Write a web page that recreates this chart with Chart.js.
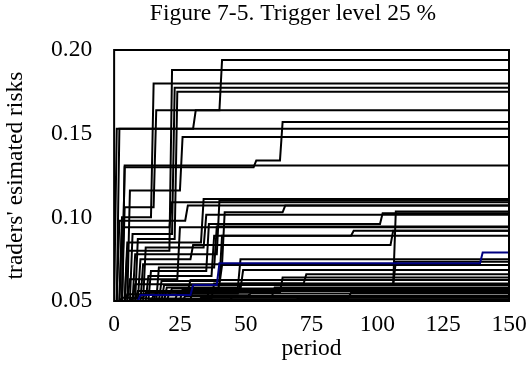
<!DOCTYPE html>
<html>
<head>
<meta charset="utf-8">
<script src="https://cdn.jsdelivr.net/npm/chart.js"></script>
<style>
  html, body { margin: 0; padding: 0; background: #fff; }
  #wrap { width: 531px; height: 383px; }
</style>
</head>
<body>
<div id="wrap"><canvas id="risk-chart"></canvas></div>
<script>
// axis ticks
const periodTicks = [0, 25, 50, 75, 100, 125, 150];
const riskTicks = [0.05, 0.10, 0.15, 0.20];

// each trader: [period, new estimated risk] at every revision
const traderSteps = [
  [[0, .05], [1, .153]],
  [[0, .05], [2, .153], [31, .164], [41, .194]],
  [[0, .05], [4, .106], [16, .164]],
  [[0, .05], [5, .080], [22, .188]],
  [[0, .05], [3, .100], [15, .180]],
  [[0, .05], [7, .090], [23, .1775]],
  [[0, .05], [9, .087], [24, .175]],
  [[0, .05], [6, .116], [26, .148]],
  [[0, .05], [4, .131]],
  [[0, .05], [4, .130], [54, .134], [64, .157]],
  [[0, .05], [3, .094], [22, .109]],
  [[0, .05], [5, .085], [34, .111]],
  [[0, .05], [8, .078], [40, .110]],
  [[0, .05], [2, .098], [28, .107]],
  [[0, .05], [11, .072], [42, .103], [65, .107]],
  [[0, .05], [19, .0596], [107, .1035]],
  [[0, .05], [14, .068], [36, .096], [102, .1025]],
  [[0, .05], [12, .082], [35, .1015]],
  [[0, .05], [17, .070], [39, .0945]],
  [[0, .05], [6, .063], [25, .094]],
  [[0, .05], [13, .065], [38, .089], [91, .092]],
  [[0, .05], [10, .075], [30, .0835], [106, .092]],
  [[0, .05], [18, .062], [41, .089]],
  [[0, .05], [20, .058], [48, .075]],
  [[0, .05], [16, .056], [40, .0596], [107, .0735]],
  [[0, .05], [8, .060], [41, .0715]],
  [[0, .05], [26, .057], [49, .0685]],
  [[0, .05], [24, .0545], [48, .0605], [73, .066]],
  [[0, .05], [21, .055], [64, .064]],
  [[0, .05], [30, .0596]],
  [[0, .05], [27, .053], [61, .058]],
  [[0, .05], [36, .056]],
  [[0, .05], [33, .052], [90, .055]],
  [[0, .05], [45, .053]],
  [[0, .05], [70, .052]],
  [[0, .05], [14, .051]],
  [[0, .05], [5, .054], [22, .0575]],
  [[0, .05], [3, .052], [12, .055], [44, .0565]],
  [[0, .05], [9, .056], [29, .0625], [72, .0625]],
  [[0, .05], [15, .0535], [52, .0545]],
  [[0, .05], [7, .0515], [38, .0605]]
];

// the one trader drawn in blue
const blueTraderSteps = [[0, .05], [10, .0536], [30, .0596], [40, .0725], [140, .079]];

const lastPeriod = periodTicks[periodTicks.length - 1];

// a revision moves from one period to the next, so the rise takes one period
function stepLine(steps) {
  const pts = [];
  steps.forEach(([p, v], i) => {
    if (i > 0) pts.push({ x: p - 1, y: steps[i - 1][1] });
    pts.push({ x: p, y: v });
  });
  pts.push({ x: lastPeriod, y: steps[steps.length - 1][1] });
  return pts;
}

const lineStyle = { borderWidth: 2, pointRadius: 0, tension: 0, fill: false };

const datasets = [
  Object.assign({ data: stepLine(blueTraderSteps), borderColor: '#000080' }, lineStyle)
];
traderSteps.forEach(s => {
  datasets.push(Object.assign({ data: stepLine(s), borderColor: '#000000' }, lineStyle));
});

const serif = 'Liberation Serif, "Times New Roman", serif';
const textFont = { family: serif, size: 23.5, lineHeight: 1 };

// frame round the plot area and the heading
const framePlugin = {
  id: 'frame',
  afterDatasetsDraw(chart) {
    const { ctx, chartArea: a } = chart;
    ctx.save();
    ctx.strokeStyle = '#000';
    ctx.lineWidth = 2;
    ctx.strokeRect(a.left, a.top, a.right - a.left, a.bottom - a.top);
    ctx.restore();
  },
  afterDraw(chart) {
    const ctx = chart.ctx;
    ctx.save();
    ctx.fillStyle = '#000';
    ctx.font = '23.5px ' + serif;
    ctx.textAlign = 'center';
    ctx.textBaseline = 'middle';
    ctx.fillText('Figure 7-5. Trigger level 25 %', 293, 14);
    ctx.restore();
  }
};

new Chart(document.getElementById('risk-chart'), {
  type: 'line',
  data: { datasets: datasets },
  options: {
    responsive: true,
    maintainAspectRatio: false,
    animation: false,
    layout: { padding: { top: 50, right: 1, left: 0, bottom: 0 } },
    plugins: {
      legend: { display: false },
      tooltip: { enabled: false }
    },
    scales: {
      x: {
        type: 'linear',
        min: periodTicks[0],
        max: lastPeriod,
        afterBuildTicks: scale => { scale.ticks = periodTicks.map(v => ({ value: v })); },
        // keep only the half width of "150" past the right edge
        afterFit: scale => { scale.paddingRight = 22; },
        grid: { display: false, drawTicks: false },
        border: { display: false },
        ticks: { color: '#000', font: textFont, padding: 12, maxRotation: 0 },
        title: { display: true, text: 'period', color: '#000', font: textFont, padding: { top: -11, bottom: 22 } }
      },
      y: {
        min: riskTicks[0],
        max: riskTicks[riskTicks.length - 1],
        afterBuildTicks: scale => { scale.ticks = riskTicks.map(v => ({ value: v })); },
        grid: { display: false, drawTicks: false },
        border: { display: false },
        ticks: { color: '#000', font: textFont, padding: 22, callback: v => v.toFixed(2) },
        title: { display: true, text: "traders' esimated risks", color: '#000', font: textFont, padding: { top: 4, bottom: 1.5 } }
      }
    }
  },
  plugins: [framePlugin]
});
</script>
</body>
</html>
